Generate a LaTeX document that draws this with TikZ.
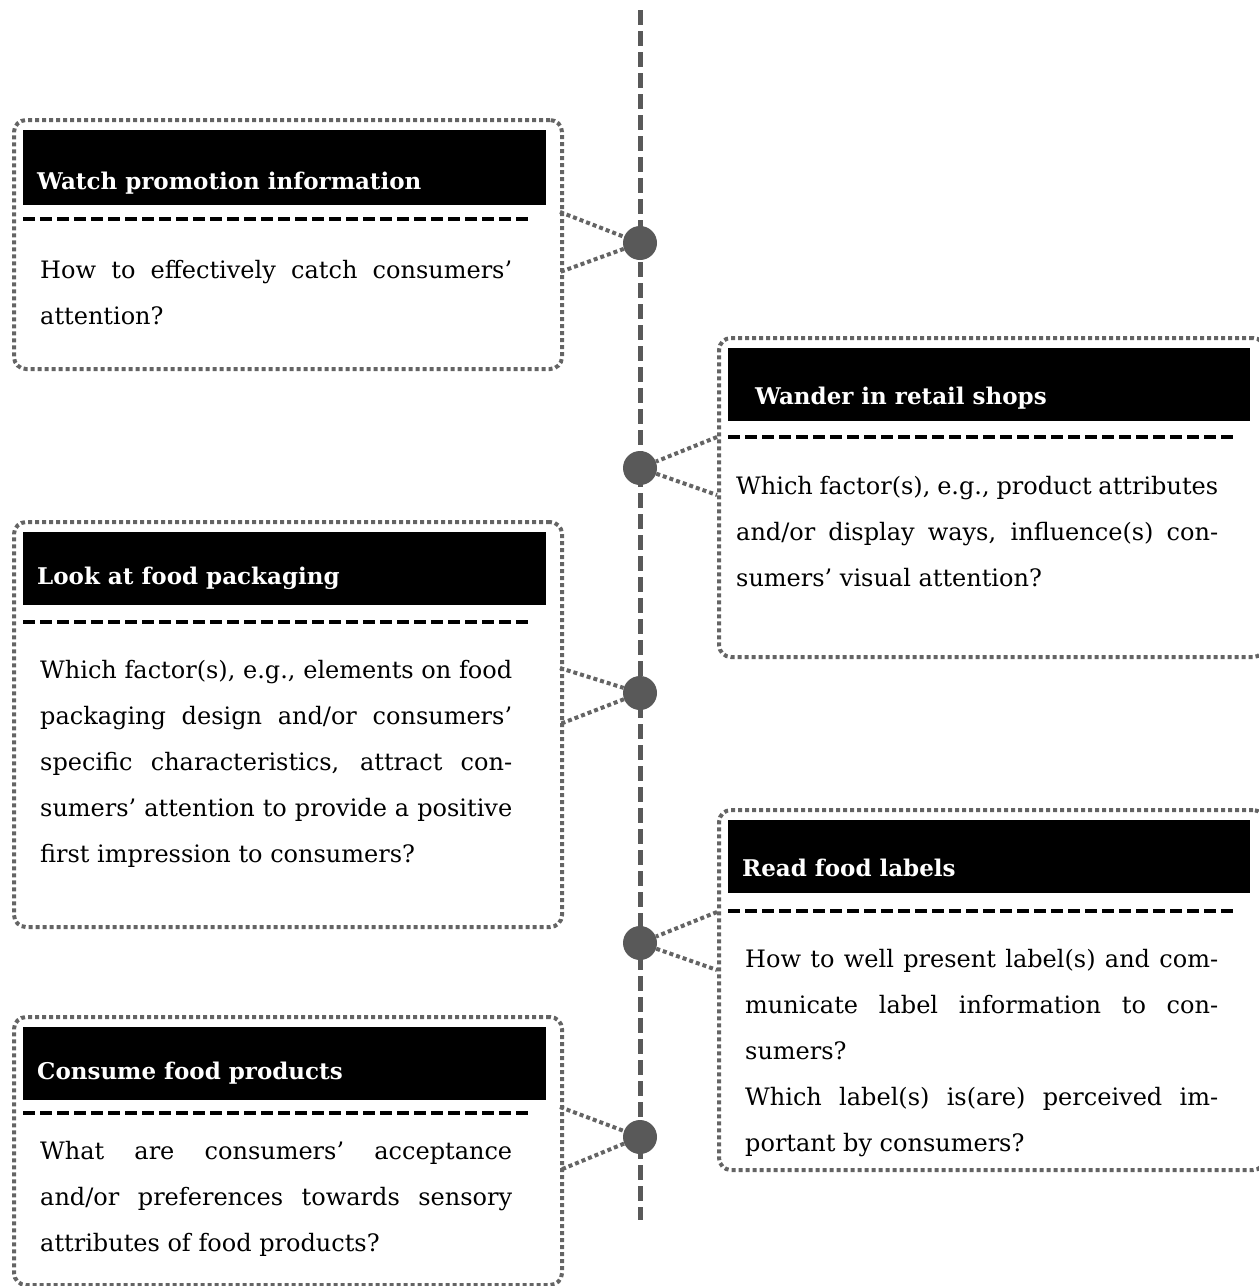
\documentclass[tikz,border=0pt]{standalone}
\usepackage{fontspec}
\setmainfont{DejaVu Serif}[WordSpace={1,2,3}]
\definecolor{dotgray}{HTML}{595959}
\definecolor{bordergray}{HTML}{646464}
\newcommand{\bodysetup}{\fontsize{24bp}{46bp}\selectfont\hyphenpenalty=10000\relax\exhyphenpenalty=0\relax\tolerance=9999\relax}
\tikzset{
  outerbox/.style={rectangle, draw=bordergray, line width=4bp, dash pattern=on 4bp off 3bp, rounded corners=12bp, inner sep=0pt, anchor=north west},
  hdrbox/.style={rectangle, fill=black, inner sep=0pt, anchor=north west},
  hdrtext/.style={text=white, font=\bfseries\fontsize{23bp}{26bp}\selectfont, anchor=base west, inner sep=0pt},
  bodytext/.style={font=\bodysetup, align=justify, anchor=base west, inner sep=0pt},
  sepline/.style={draw=black, line width=4bp, dash pattern=on 12bp off 5bp},
  conn/.style={draw=bordergray, line width=4bp, dash pattern=on 4bp off 3bp},
  timeline/.style={draw=dotgray, line width=5bp, dash pattern=on 15bp off 6bp},
  tdot/.style={circle, fill=dotgray, minimum size=34bp, inner sep=0pt}
}
\begin{document}
\begin{tikzpicture}[x=1bp,y=-1bp]
\useasboundingbox (0,0) rectangle (1259,1286);
\clip (0,0) rectangle (1259,1286);
% timeline
\coordinate (ttop) at (640,10);
\coordinate (tbot) at (640,1220);
\draw[timeline] (ttop) -- (tbot);
% dots
\node[tdot] (d1) at (640,243) {};
\node[tdot] (d2) at (640,468) {};
\node[tdot] (d3) at (640,693) {};
\node[tdot] (d4) at (640,943) {};
\node[tdot] (d5) at (640,1137) {};
% boxes
\node[outerbox, minimum width=548bp, minimum height=249bp] (b1) at (12,118) {};
\node[outerbox, minimum width=546bp, minimum height=319bp] (b2) at (717,336) {};
\node[outerbox, minimum width=548bp, minimum height=405bp] (b3) at (12,520) {};
\node[outerbox, minimum width=546bp, minimum height=360bp] (b4) at (717,808) {};
\node[outerbox, minimum width=548bp, minimum height=268bp] (b5) at (12,1015) {};
% headers
\node[hdrbox, minimum width=523bp, minimum height=75bp] (h1) at (23,130) {};
\node[hdrbox, minimum width=522bp, minimum height=73bp] (h2) at (728,348) {};
\node[hdrbox, minimum width=523bp, minimum height=73bp] (h3) at (23,532) {};
\node[hdrbox, minimum width=522bp, minimum height=73bp] (h4) at (728,820) {};
\node[hdrbox, minimum width=523bp, minimum height=73bp] (h5) at (23,1027) {};
\node[hdrtext] (ht1) at (37,189) {Watch promotion information};
\node[hdrtext] (ht2) at (755,404) {Wander in retail shops};
\node[hdrtext] (ht3) at (37,584) {Look at food packaging};
\node[hdrtext] (ht4) at (742,876) {Read food labels};
\node[hdrtext] (ht5) at (37,1079) {Consume food products};
% separators
\draw[sepline] (23,219) -- (531,219);
\draw[sepline] (728,437) -- (1237,437);
\draw[sepline] (23,622) -- (531,622);
\draw[sepline] (728,911) -- (1237,911);
\draw[sepline] (23,1113) -- (531,1113);
% body texts
\node[bodytext, text width=472bp] (q1) at (40,278) {How to effectively catch consumers’\linebreak attention?};
\node[bodytext, text width=482bp] (q2) at (736,494) {Which factor(s), e.g., product attributes\linebreak and/or display ways, influence(s) con-\linebreak sumers’ visual attention?};
\node[bodytext, text width=472bp] (q3) at (40,678) {Which factor(s), e.g., elements on food\linebreak packaging design and/or consumers’\linebreak specific characteristics, attract con-\linebreak sumers’ attention to provide a positive\linebreak first impression to consumers?};
\node[bodytext, text width=473bp] (q4) at (745,967) {How to well present label(s) and com-\linebreak municate label information to con-\linebreak sumers?\par Which label(s) is(are) perceived im-\linebreak portant by consumers?};
\node[bodytext, text width=472bp] (q5) at (40,1159) {What are consumers’ acceptance\linebreak and/or preferences towards sensory\linebreak attributes of food products?};
% connectors
\coordinate (c1a) at (560,212);
\coordinate (c1b) at (560,272);
\coordinate (c2a) at (717,437);
\coordinate (c2b) at (717,495);
\coordinate (c3a) at (560,668);
\coordinate (c3b) at (560,724);
\coordinate (c4a) at (717,912);
\coordinate (c4b) at (717,970);
\coordinate (c5a) at (560,1107);
\coordinate (c5b) at (560,1170);
\draw[conn] (c1a) -- (d1) -- (c1b);
\draw[conn] (c2a) -- (d2) -- (c2b);
\draw[conn] (c3a) -- (d3) -- (c3b);
\draw[conn] (c4a) -- (d4) -- (c4b);
\draw[conn] (c5a) -- (d5) -- (c5b);
\end{tikzpicture}
\end{document}
